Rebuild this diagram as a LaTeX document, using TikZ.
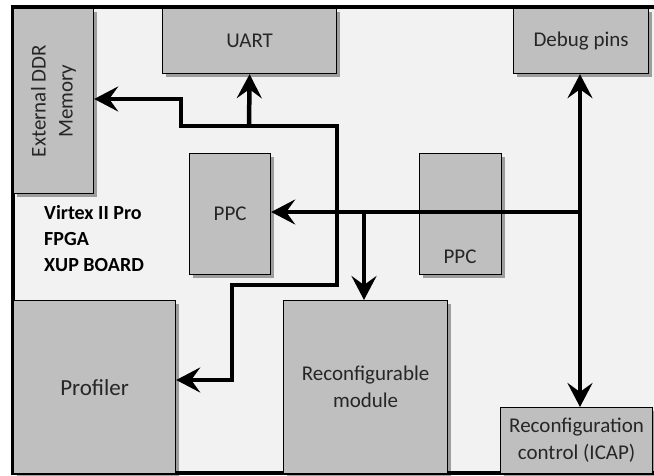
\documentclass[tikz,border=0pt]{standalone}
\usepackage{fontspec}
\setmainfont{Carlito}
\usetikzlibrary{arrows.meta,shadows,calc}
\definecolor{bggray}{HTML}{F2F2F2}
\definecolor{boxgray}{HTML}{BFBFBF}
\definecolor{txtgray}{HTML}{262626}
\begin{document}
\begin{tikzpicture}[x=1pt,y=-1pt,
  blk/.style={draw=black, line width=1.2pt, fill=boxgray, anchor=north west,
    inner sep=0pt, align=center, text=txtgray,
    font=\fontsize{21}{27}\selectfont,
    drop shadow={shadow xshift=3pt, shadow yshift=-3pt, opacity=0.35, fill=black}},
  lbl/.style={inner sep=0pt, text=txtgray, font=\fontsize{21}{27}\selectfont, align=center},
  bus/.style={line width=4.5pt, line join=miter, draw=black},
  tip/.style={-{Stealth[length=24pt,width=25pt,inset=9pt]}},
  tips/.style={{Stealth[length=24pt,width=25pt,inset=9pt]}-{Stealth[length=24pt,width=25pt,inset=9pt]}},
]
\useasboundingbox (0,0) rectangle (654,476);
% board
\draw[line width=4pt, fill=bggray] (13,7) rectangle (662,473);

% blocks
\node[blk, minimum width=80pt, minimum height=185pt] (ddr) at (13,8)
  {\rotatebox{90}{\begin{tabular}{@{}c@{}}External DDR\\Memory\end{tabular}}};
\node[blk, minimum width=174pt, minimum height=65pt] (uart) at (162,8) {UART};
\node[blk, minimum width=135pt, minimum height=65pt] (debug) at (513,8) {Debug pins};
\node[blk, minimum width=81pt, minimum height=121pt] (ppc1) at (189,153) {PPC};
\node[blk, minimum width=82pt, minimum height=121pt] (ppc2) at (419,153) {};
\node[lbl] (ppc2t) at (460,257) {PPC};
\node[blk, minimum width=162pt, minimum height=173pt] (prof) at (13,300)
  {\fontsize{23}{27}\selectfont Profiler};
\node[blk, minimum width=164pt, minimum height=173pt] (reconf) at (283,300)
  {Reconfigurable\\module};
\node[blk, minimum width=152pt, minimum height=66pt] (icap) at (500,407)
  {Reconfiguration\\control (ICAP)};

% board label
\node[inner sep=0pt, anchor=west, align=left, font=\fontsize{20}{26}\selectfont\bfseries]
  (board) at (44,239) {Virtex II Pro\\FPGA\\XUP BOARD};

% bus from memory to profiler
\coordinate (b1) at (181,99);
\coordinate (b2) at (181,126);
\coordinate (b3) at (337,126);
\coordinate (b4) at (337,285);
\coordinate (b5) at (232,285);
\coordinate (b6) at (232,380);
\draw[bus, tips] (b1 -| ddr.east) -- (b1) -- (b2) -- (b3) -- (b4) -- (b5) -- (b6) -- (b6 -| prof.east);
\coordinate (u0) at (249,126);
\draw[bus, tip] (u0) -- (uart.south);

% PPC bus
\coordinate (j) at (580,212);
\coordinate (r0) at (364,212);
\draw[bus, tip] (j) -- (j -| ppc1.east);
\draw[bus, tip] (j) -- (j |- debug.south);
\draw[bus, tip] (j) -- (j |- icap.north);
\draw[bus, tip] (r0) -- (r0 |- reconf.north);
\end{tikzpicture}
\end{document}
